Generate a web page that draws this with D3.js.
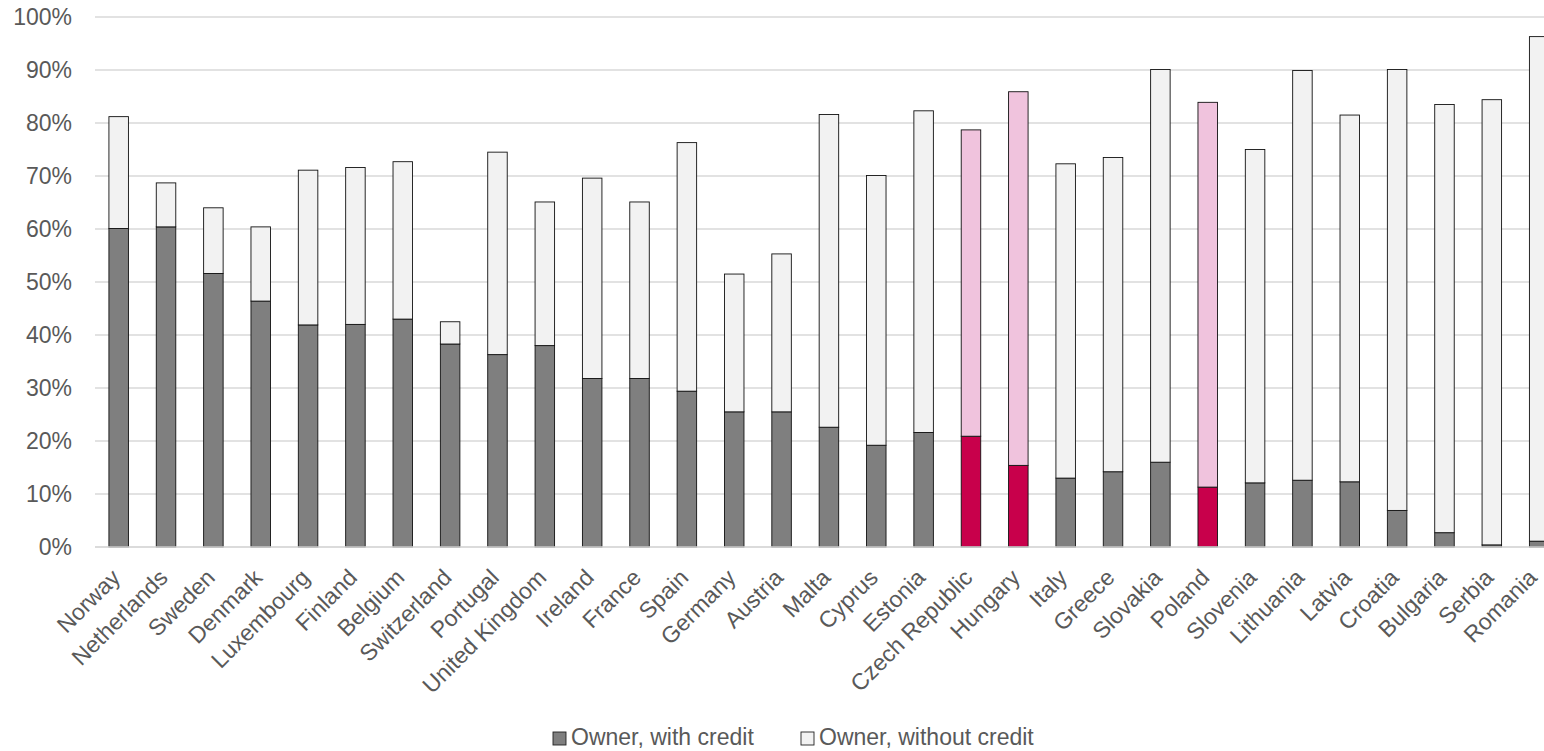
<!DOCTYPE html>
<html>
<head>
<meta charset="utf-8">
<script src="https://cdn.jsdelivr.net/npm/d3@7"></script>
<style>
  html, body { margin: 0; padding: 0; background: #fff; overflow: hidden; }
  svg { display: block; font-family: "Liberation Sans", Arial, sans-serif; }
</style>
</head>
<body>
<svg id="chart" width="1544" height="751"></svg>
<script>
// Housing tenure: share of owners with and without a mortgage/credit, by country
const countries = ["Norway","Netherlands","Sweden","Denmark","Luxembourg","Finland","Belgium",
  "Switzerland","Portugal","United Kingdom","Ireland","France","Spain","Germany","Austria","Malta",
  "Cyprus","Estonia","Czech Republic","Hungary","Italy","Greece","Slovakia","Poland","Slovenia",
  "Lithuania","Latvia","Croatia","Bulgaria","Serbia","Romania"];

const ownerWithCredit = [60.1,60.4,51.6,46.4,41.9,42.0,43.0,38.3,36.3,38.0,31.8,31.8,29.4,25.5,25.5,22.6,
  19.2,21.6,20.9,15.4,13.0,14.2,16.0,11.3,12.1,12.6,12.3,6.9,2.7,0.4,1.1];

const ownerWithoutCredit = [21.1,8.3,12.4,14.0,29.2,29.6,29.7,4.2,38.2,27.1,37.8,33.3,46.9,26.0,29.8,59.0,
  50.9,60.7,57.8,70.5,59.3,59.3,74.1,72.6,62.9,77.3,69.2,83.2,80.8,84.0,95.2];

const highlighted = ["Czech Republic","Hungary","Poland"];

const seriesNames = ["Owner, with credit","Owner, without credit"];
const yTicks = [0,10,20,30,40,50,60,70,80,90,100];

const colors = {
  normal:    ["#7f7f7f", "#f2f2f2"],
  highlight: ["#c8004b", "#f0c3dd"]
};

const width = 1544;
const svg = d3.select("#chart");
const textColor = "#595959";
const fontSize = 23;

// plot geometry
const plotLeft = 95, plotTop = 17, plotBottom = 547;
const step = 47.35;
const plotRight = plotLeft + step * countries.length;

const x = d3.scaleBand()
  .domain(countries)
  .range([plotLeft, plotRight])
  .paddingInner(0.588)
  .paddingOuter(0.294);

const y = d3.scaleLinear().domain([0, 100]).range([plotBottom, plotTop]);

// gridlines
svg.append("g")
  .selectAll("line")
  .data(yTicks)
  .join("line")
  .attr("x1", plotLeft).attr("x2", plotRight)
  .attr("y1", d => y(d)).attr("y2", d => y(d))
  .attr("stroke", "#d9d9d9")
  .attr("stroke-width", 1.5);

// y axis labels
const yAxis = d3.axisLeft(y).tickValues(yTicks).tickFormat(d => d + "%").tickSize(0).tickPadding(0);
svg.append("g")
  .attr("transform", `translate(72,0)`)
  .call(yAxis)
  .call(g => g.select(".domain").remove())
  .call(g => g.selectAll("text")
    .attr("fill", textColor)
    .attr("font-size", fontSize)
    .attr("font-family", "Liberation Sans, Arial, sans-serif"));

// stacked bars
const table = countries.map((c, i) => ({
  country: c,
  [seriesNames[0]]: ownerWithCredit[i],
  [seriesNames[1]]: ownerWithoutCredit[i]
}));
const stacked = d3.stack().keys(seriesNames)(table);

svg.append("g")
  .selectAll("g")
  .data(stacked)
  .join("g")
  .each(function (layer, li) {
    d3.select(this).selectAll("rect")
      .data(layer)
      .join("rect")
      .attr("x", d => x(d.data.country))
      .attr("width", x.bandwidth())
      .attr("y", d => y(d[1]))
      .attr("height", d => y(d[0]) - y(d[1]))
      .attr("fill", d => highlighted.includes(d.data.country) ? colors.highlight[li] : colors.normal[li])
      .attr("stroke", "#111")
      .attr("stroke-width", 0.9);
  });

// baseline
svg.append("line")
  .attr("x1", plotLeft).attr("x2", plotRight)
  .attr("y1", y(0)).attr("y2", y(0))
  .attr("stroke", "#d9d9d9").attr("stroke-width", 1.5);

// rotated category labels; nudged left if they would run past the right edge
svg.append("g")
  .selectAll("text")
  .data(countries)
  .join("text")
  .attr("transform", d => `translate(${x(d) + x.bandwidth() / 2 + 3},579) rotate(-45)`)
  .attr("text-anchor", "end")
  .attr("fill", textColor)
  .attr("font-size", fontSize)
  .text(d => d)
  .each(function (d) {
    const r = this.getBoundingClientRect();
    const over = r.right - (width - 2);
    if (over > 0) {
      d3.select(this).attr("transform",
        `translate(${x(d) + x.bandwidth() / 2 + 3 - over},579) rotate(-45)`);
    }
  });

// legend
const legendItems = [
  { name: seriesNames[0], color: colors.normal[0], x: 553 },
  { name: seriesNames[1], color: colors.normal[1], x: 801 }
];
const lg = svg.append("g");
legendItems.forEach(it => {
  lg.append("rect")
    .attr("x", it.x).attr("y", 732)
    .attr("width", 13).attr("height", 13)
    .attr("fill", it.color)
    .attr("stroke", "#222").attr("stroke-width", 0.9);
  lg.append("text")
    .attr("x", it.x + 18).attr("y", 745)
    .attr("fill", textColor)
    .attr("font-size", fontSize)
    .text(it.name);
});
</script>
</body>
</html>
